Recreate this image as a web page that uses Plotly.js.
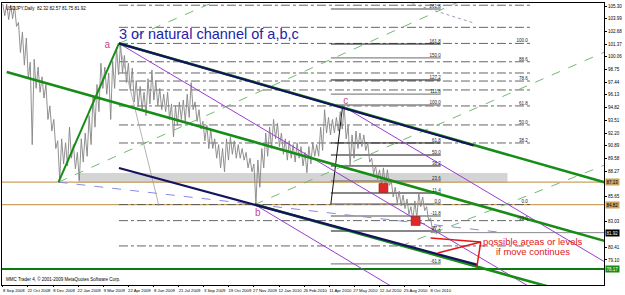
<!DOCTYPE html>
<html><head><meta charset="utf-8">
<script src="https://cdn.plot.ly/plotly-3.0.1.min.js"></script>
<style>html,body{margin:0;padding:0;background:#fff}#chart{width:625px;height:295px}</style>
</head><body><div id="chart"></div>
<script>
// ---- price data (weekly high / low, USDJPY daily) ----
const barsPerWeek = 5;
const weekHigh = [105.5,105.5,105.4,105.3,103.6,102.6,102.0,99.5,99.8,99.0,98.0,97.2,95.0,93.6,91.4,91.6,91.2,92.8,91.0,90.2,
  91.6,92.2,94.0,96.0,97.2,99.4,99.0,98.4,99.6,101.0,101.44,100.2,99.4,98.9,97.6,97.0,96.4,97.8,98.7,97.6,
  96.8,96.2,96.4,95.2,95.0,95.4,95.6,96.2,97.4,95.4,94.6,93.4,93.0,92.6,91.6,91.0,90.6,91.6,91.8,91.4,
  91.0,90.6,90.2,89.6,89.0,89.4,90.6,92.2,92.8,93.6,93.2,92.2,91.6,91.4,91.0,91.2,90.8,90.2,90.8,91.2,
  91.0,92.8,94.6,93.8,93.6,93.8,94.4,94.98,93.0,92.0,92.4,92.2,92.0,91.2,89.6,88.8,88.4,88.6,88.4,87.2,
  86.6,86.2,85.8,85.4,84.6,85.2,86.0,85.6,84.6,83.4,82.6];
const weekLow = [104.3,103.9,104.0,103.2,100.5,99.2,97.8,91.0,96.8,96.4,95.8,93.6,92.4,90.6,87.3,89.0,88.8,89.6,88.5,87.3,
  89.2,89.8,91.0,92.8,94.4,96.8,96.2,93.6,96.8,98.2,98.4,97.4,96.6,95.4,94.9,94.6,94.0,95.2,95.6,95.0,
  94.6,94.4,93.6,91.8,93.0,93.6,93.4,93.8,94.6,93.4,92.6,91.4,90.6,90.6,89.6,88.6,88.2,89.4,90.0,89.6,
  89.6,89.4,88.6,88.2,84.82,86.6,88.6,89.8,90.6,91.6,90.8,90.0,89.4,89.6,89.2,89.6,88.8,88.1,89.0,89.8,
  89.8,90.4,92.2,92.0,92.2,92.4,92.6,91.6,88.8,89.6,90.6,90.8,90.4,89.2,88.0,87.4,86.8,86.6,86.8,85.6,
  85.0,84.7,84.4,83.8,83.2,83.4,84.6,84.2,83.2,82.2,81.75];

// ---- axis labels ----
const dateTickBars = [0,32,64,96,128,160,192,224,256,288,320,352,384,416,448,480,512,544];
const dateTickText = ['8 Sep 2008','22 Oct 2008','8 Dec 2008','22 Jan 2009','9 Mar 2009','22 Apr 2009','8 Jun 2009',
  '21 Jul 2009','3 Sep 2009','19 Oct 2009','27 Nov 2009','12 Jan 2010','26 Feb 2010','11 Apr 2010','27 May 2010',
  '12 Jul 2010','25 Aug 2010','8 Oct 2010'];
const priceTicks = [105.30,103.99,102.68,101.37,100.06,98.75,97.44,96.13,94.82,93.51,92.20,90.89,89.58,88.27,
  86.96,85.65,84.34,83.03,81.72,80.41,79.10,77.79,76.48];

// ---- pivots (bar index, price) ----
const pivotNames = ['a','b','c'];
const pivotBars = [133,325,437];
const pivotPrices = [101.2,83.85,95.5];

// ---- drawn trend lines: [bar0, bar1], [price0, price1] ----
const greenLegX=[71,148], greenLegY=[87.13,101.44];
const upperGreenX=[148,767], upperGreenY=[101.44,87.10];
const upperNavyX=[148,600], upperNavyY=[101.44,90.91];
const midGreenX=[5,767], midGreenY=[98.49,81.06];
const lowerNavyX=[148,605], lowerNavyY=[88.59,78.59];
const lowerGreenX=[321,711], lowerGreenY=[84.82,76.0];
const purpleAX=[148,678], purpleAY=[101.44,76.0];
const purpleCX=[433,767], purpleCY=[94.98,78.9];
const purpleBX=[321,503], purpleBY=[84.82,76.0];
const dashG1X=[148,275], dashG1Y=[101.44,105.92];
const dashG2X=[71,586], dashG2Y=[87.13,105.92];
const dashG3X=[321,767], dashG3Y=[84.82,100.56];
const dashG4X=[507,767], dashG4Y=[80.54,88.9];
const blueDashX=[71,641], blueDashY=[87.13,81.89];
const grayDiagX=[148,199], grayDiagY=[101.44,84.67];
const fibLegX=[418,433], fibLegY=[84.88,94.98];
const topDotX=[507,600], topDotY=[105.92,103.55];

// horizontal levels
const tanLevels = [87.13, 84.82];
const supportLevel = 78.17;
const lastPrice = 81.92;
const zoneBars = [96,643], zonePrices = [87.05,88.08];

// fibonacci set 1 (a-b), dash-dot
const fib1Bars = [148,673];
const fib1Levels = [105.38,103.10,101.44,99.55,98.39,97.56,96.64,94.99,93.03,91.17,84.82,83.16,80.55];
const fib1Labels = ['','','100.0','88.6','','78.6','','61.8','50.0','38.2','0.0','-10.0',''];
// fibonacci set 2 (c), solid
const fib2Bars = [418,558];
const fib2Levels = [104.99,101.38,99.94,97.67,96.22,95.09,91.17,89.93,88.80,87.25,86.01,84.88,83.64,82.09,78.69];
const fib2Labels = ['261.8','161.8','150.0','127.2','111.8','100.0','61.8','50.0','38.2','23.6','11.4','0.0','-11.8','-27.2','-61.8'];
const fib2Gray = [1,0,1,0,1,1,0,0,0,1,0,1,1,0,1];

// annotation arrows / signals
const redPivot = [609,80.96];
const redTargetsX = [545,554,604], redTargetsY = [81.37,79.82,78.38];
const signalX = [485,526], signalY = [86.53,83.12];

// ---------------------------------------------------------------
const traces = [];
function seg(x,y,color,width,dash){traces.push({type:'scatter',mode:'lines',x:x,y:y,hoverinfo:'skip',
  line:{color:color,width:width,dash:dash||'solid'},showlegend:false});}

tanLevels.forEach(v=>seg([-1,767],[v,v],'#c9a261',1.3));
seg([-1,767],[supportLevel,supportLevel],'#0c7a0c',2.2);
seg([545,767],[lastPrice,lastPrice],'#8a8a8a',1);

{const x=[],y=[];fib1Levels.forEach(v=>{x.push(fib1Bars[0],fib1Bars[1],null);y.push(v,v,null);});
 seg(x,y,'#555',0.9,'dashdot');}
{const xb=[],yb=[],xg=[],yg=[];fib2Levels.forEach((v,i)=>{const X=fib2Gray[i]?xg:xb,Y=fib2Gray[i]?yg:yb;
  X.push(fib2Bars[0],fib2Bars[1],null);Y.push(v,v,null);});
 seg(xb,yb,'#111',1);seg(xg,yg,'#888',1.3);}
seg(fibLegX,fibLegY,'#111',1);

{const x=[],y=[];weekHigh.forEach((h,i)=>{x.push(i*barsPerWeek,i*barsPerWeek+2.5);y.push(h,weekLow[i]);});
 traces.push({type:'scatter',mode:'lines',x:x,y:y,line:{color:'#858585',width:0.9},hoverinfo:'skip',showlegend:false});}

seg(grayDiagX,grayDiagY,'#a0a0a0',0.8);
seg(topDotX,topDotY,'#9a9ab8',1,'dot');
seg(blueDashX,blueDashY,'#8a8ae0',1,'dash');
seg(dashG1X,dashG1Y,'#77b877',1,'dash');
seg(dashG2X,dashG2Y,'#77b877',1,'dash');
seg(dashG3X,dashG3Y,'#77b877',1,'dash');
seg(dashG4X,dashG4Y,'#77b877',1,'dash');
seg(purpleAX,purpleAY,'#9a3ccf',1);
seg(purpleBX,purpleBY,'#9a3ccf',1);
seg(purpleCX,purpleCY,'#9a3ccf',1);

seg(greenLegX,greenLegY,'#178c17',2);
seg(midGreenX,midGreenY,'#178c17',2.6);
seg(upperGreenX,upperGreenY,'#178c17',2.6);
seg(lowerGreenX,lowerGreenY,'#178c17',2.6);
seg(upperNavyX,upperNavyY,'#14145e',2.2);
seg(lowerNavyX,lowerNavyY,'#14145e',2.2);

{const x=[],y=[];redTargetsX.forEach((t,i)=>{x.push(redPivot[0],t,null);y.push(redPivot[1],redTargetsY[i],null);});
 seg(x,y,'#e01818',1.5);}
traces.push({type:'scatter',mode:'markers',x:signalX,y:signalY,hoverinfo:'skip',showlegend:false,
  marker:{symbol:'square',size:9,color:'#e02828',line:{color:'#8a1010',width:0.5}}});

traces.push({type:'scatter',mode:'text',x:fib1Levels.map(()=>fib1Bars[1]-4),y:fib1Levels,text:fib1Labels,
  textposition:'top left',textfont:{size:4.5,color:'#222',family:'Arial'},hoverinfo:'skip',showlegend:false});
traces.push({type:'scatter',mode:'text',x:fib2Levels.map(()=>fib2Bars[1]),y:fib2Levels,text:fib2Labels,
  textposition:'top left',textfont:{size:4.5,color:'#222',family:'Arial'},hoverinfo:'skip',showlegend:false});
traces.push({type:'scatter',mode:'text',x:pivotBars,y:pivotPrices,text:pivotNames,textposition:'middle center',
  textfont:{size:10,color:'#cc3f9a',family:'Arial'},hoverinfo:'skip',showlegend:false});

const annotations = [
  {x:146,y:102.45,xref:'x',yref:'y',xanchor:'left',yanchor:'middle',showarrow:false,
   text:'3 or natural channel of a,b,c',font:{family:'Arial, Liberation Sans',size:14.5,color:'#2323a8'}},
  {x:675,y:81.0,xref:'x',yref:'y',xanchor:'center',yanchor:'middle',showarrow:false,
   text:'possible areas or levels',font:{family:'Arial, Liberation Sans',size:9.5,color:'#e01818'}},
  {x:675,y:79.95,xref:'x',yref:'y',xanchor:'center',yanchor:'middle',showarrow:false,
   text:'if move continues',font:{family:'Arial, Liberation Sans',size:9.5,color:'#e01818'}},
  {x:0.004,y:0.995,xref:'paper',yref:'paper',xanchor:'left',yanchor:'top',showarrow:false,
   text:'USDJPY,Daily  82.32 82.57 81.75 81.92',font:{family:'Arial',size:4.5,color:'#000'}},
  {x:0.003,y:0.005,xref:'paper',yref:'paper',xanchor:'left',yanchor:'bottom',showarrow:false,
   text:'MMC Trader 4, © 2001-2009 MetaQuotes Software Corp.',font:{family:'Arial',size:4.5,color:'#000'}},
];
const boxVals = [tanLevels[0],tanLevels[1],lastPrice,supportLevel];
const boxes = [[tanLevels[0],'#c9a261','#000'],[tanLevels[1],'#c9a261','#000'],[lastPrice,'#000','#fff'],[supportLevel,'#178c17','#fff']];
boxes.forEach(b=>annotations.push({x:1,xref:'paper',y:b[0],yref:'y',xanchor:'left',yanchor:'middle',xshift:1,
  showarrow:false,text:b[0].toFixed(2),bgcolor:b[1],borderpad:0.5,font:{family:'Arial',size:4.5,color:b[2]}}));
const shownTicks = priceTicks.filter(t=>boxVals.every(v=>Math.abs(v-t)>0.55));

const layout = {
  width:625,height:295,margin:{l:2,r:21,t:3,b:10},paper_bgcolor:'#fff',plot_bgcolor:'#fff',
  showlegend:false,
  xaxis:{range:[-1,766],tickvals:dateTickBars,ticktext:dateTickText,ticks:'outside',ticklen:1,tickcolor:'#000',
    tickangle:0,automargin:false,
    showgrid:false,zeroline:false,showline:true,linecolor:'#000',linewidth:1,mirror:true,
    tickfont:{family:'Arial',size:4.2,color:'#000'},ticklabelshift:11,ticklabelstandoff:0},
  yaxis:{range:[76.52,105.61],side:'right',tickvals:shownTicks,ticktext:shownTicks.map(v=>v.toFixed(2)),
    ticks:'outside',ticklen:2,tickcolor:'#000',showgrid:false,zeroline:false,showline:true,linecolor:'#000',
    linewidth:1,mirror:true,tickfont:{family:'Arial',size:4.5,color:'#000'},automargin:false},
  shapes:[{type:'rect',xref:'x',yref:'y',x0:zoneBars[0],x1:zoneBars[1],y0:zonePrices[0],y1:zonePrices[1],
    fillcolor:'#d4d4d4',line:{width:0},layer:'below'}],
  annotations:annotations
};
Plotly.newPlot('chart',traces,layout,{staticPlot:true,displayModeBar:false});
</script></body></html>
